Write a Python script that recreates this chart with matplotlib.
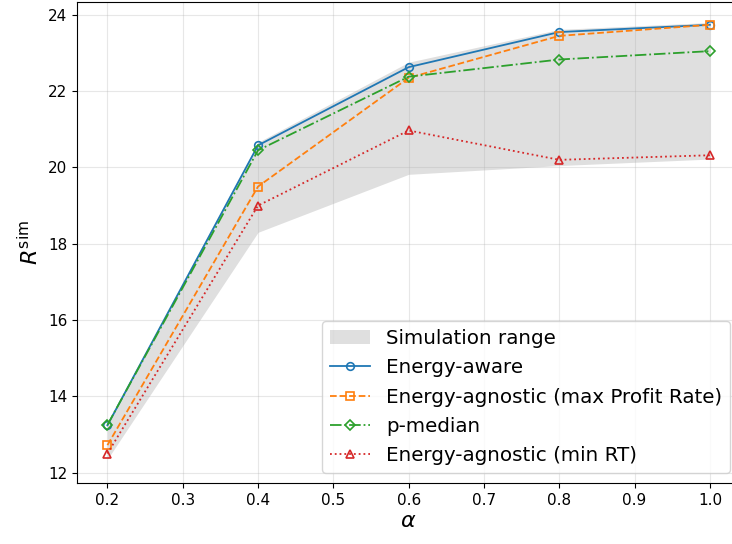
import numpy as np
import matplotlib
matplotlib.use('Agg')
import matplotlib.pyplot as plt

alpha = [0.2, 0.4, 0.6, 0.8, 1.0]

range_low = [12.35, 18.3, 19.82, 20.05, 20.22]
range_high = [13.32, 20.66, 22.76, 23.62, 23.8]

energy_aware = [13.24, 20.58, 22.63, 23.55, 23.74]
agnostic_profit = [12.72, 19.5, 22.35, 23.45, 23.74]
p_median = [13.25, 20.45, 22.38, 22.83, 23.05]
agnostic_rt = [12.5, 19.0, 20.97, 20.2, 20.32]


def main():
    fig = plt.figure(figsize=(7.32, 5.44), dpi=100)
    # right spine is cut off in the reference, so the axes run past the figure edge
    ax = fig.add_axes([77.3 / 732, (544 - 483.3) / 544,
                       (740 - 77.3) / 732, (483.3 - 2.3) / 544])

    style = dict(mfc='none', ms=5.5, mew=1.2, lw=1.3)
    ax.fill_between(alpha, range_low, range_high, color='gray', alpha=0.25,
                    linewidth=0, label='Simulation range')
    ax.plot(alpha, energy_aware, '-o', color='tab:blue',
            label='Energy-aware', **style)
    ax.plot(alpha, agnostic_profit, '--s', color='tab:orange',
            label='Energy-agnostic (max Profit Rate)', **style)
    ax.plot(alpha, p_median, '-.D', color='tab:green',
            label='p-median', **style)
    ax.plot(alpha, agnostic_rt, ':^', color='tab:red',
            label='Energy-agnostic (min RT)', **style)

    ax.set_xlim(0.16, 1.04)
    ax.set_ylim(11.72, 24.33)
    ax.set_xticks(np.arange(0.2, 1.01, 0.1))
    ax.grid(True, alpha=0.3)
    ax.tick_params(labelsize=11)
    ax.set_xlabel(r'$\alpha$', fontsize=16, labelpad=2)
    ax.set_ylabel(r'$R^{\mathrm{sim}}$', fontsize=16)
    ax.legend(loc='lower right', fontsize=14.3, labelspacing=0.52)

    fig.savefig('out.png', dpi=100)


if __name__ == '__main__':
    main()
